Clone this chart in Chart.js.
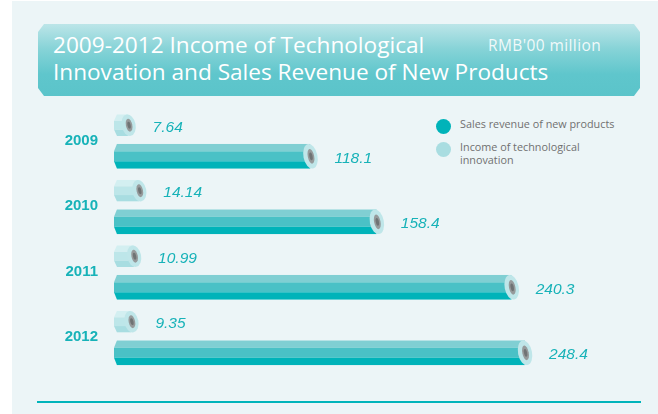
<!DOCTYPE html>
<html>
<head>
<meta charset="utf-8">
<script src="https://cdn.jsdelivr.net/npm/chart.js@4.4.0/dist/chart.umd.min.js"></script>
<style>
    body { margin: 0; background: #ffffff; }
    #wrap { position: relative; width: 658px; height: 414px; overflow: hidden; }
    #panel { position: absolute; left: 12px; top: 1px; right: 0; bottom: 0; background: #ecf5f7; }
    #titlebox {
        position: absolute; left: 38px; top: 24px; width: 602px; height: 72px;
        background: linear-gradient(to bottom, #bce5e8 0%, #86d3d7 35%, #5fc6cc 70%, #5bc4ca 100%);
        clip-path: polygon(6px 0, 596px 0, 602px 8px, 602px 64px, 596px 72px, 6px 72px, 0 64px, 0 8px);
    }
    #title {
        position: absolute; left: 53px; top: 31px; color: #ffffff;
        font-family: "Open Sans", sans-serif; font-size: 22.6px; line-height: 27px; white-space: nowrap;
    }
    #unit {
        position: absolute; left: 488px; top: 34px; color: rgba(255,255,255,0.88);
        font-family: "Open Sans", sans-serif; font-size: 15.5px; letter-spacing: 0.4px; white-space: nowrap;
    }
    #legend { position: absolute; left: 436px; top: 117px; font-family: "Open Sans", sans-serif; font-size: 10.8px; color: #707070; }
    .item { position: relative; padding-left: 24px; line-height: 13px; margin-bottom: 10px; }
    .dot { position: absolute; left: 0; top: 2px; width: 15px; height: 15px; border-radius: 50%; }
    #bottomline { position: absolute; left: 37px; top: 401px; width: 604px; height: 2px; background: #00b4ba; }
    #c { position: absolute; left: 0; top: 0; }
</style>
</head>
<body>
<div id="wrap">
    <div id="panel"></div>
    <div id="titlebox"></div>
    <div id="title">2009-2012 Income of Technological<br>Innovation and Sales Revenue of New Products</div>
    <div id="unit">RMB'00 million</div>
    <div id="legend">
        <div class="item"><span class="dot" style="background:#00b3b9"></span>Sales revenue of new products</div>
        <div class="item"><span class="dot" style="background:#a9dde1"></span>Income of technological<br>innovation</div>
    </div>
    <div id="bottomline"></div>
    <canvas id="c" width="658" height="414"></canvas>
</div>
<script>
var years = ['2009', '2010', '2011', '2012'];
var incomeTech = [7.64, 14.14, 10.99, 9.35];
var salesNew = [118.1, 158.4, 240.3, 248.4];

// colours for the prism bars: top, middle, bottom
var salesShades = ['#80cfd3', '#4ac1c6', '#00b3b9'];
var incomeShades = ['#d3eff1', '#bde6e9', '#a8dde1'];

// draws the bars as small prisms with an end cap, plus the value labels
var prismBars = {
    id: 'prismBars',
    afterDatasetsDraw: function (chart) {
        var ctx = chart.ctx;
        chart.data.datasets.forEach(function (ds, di) {
            var meta = chart.getDatasetMeta(di);
            var shades = di === 0 ? incomeShades : salesShades;
            meta.data.forEach(function (bar, i) {
                var p = bar.getProps(['x', 'y', 'base', 'height'], true);
                var h = p.height, t = p.y - h / 2, b = p.y + h / 2;
                var x0 = p.base - 2, x1 = p.x;

                ctx.save();
                ctx.beginPath();
                ctx.moveTo(x0 + 3, t);
                ctx.lineTo(x1, t);
                ctx.lineTo(x1, b);
                ctx.lineTo(x0 + 3, b);
                ctx.lineTo(x0, b - h * 0.3);
                ctx.lineTo(x0, t + h * 0.3);
                ctx.closePath();
                ctx.clip();
                ctx.fillStyle = shades[0];
                ctx.fillRect(x0, t, x1 - x0, h * 0.3);
                ctx.fillStyle = shades[1];
                ctx.fillRect(x0, t + h * 0.3, x1 - x0, h * 0.4);
                ctx.fillStyle = shades[2];
                ctx.fillRect(x0, t + h * 0.7, x1 - x0, h * 0.3);
                ctx.restore();

                // end cap
                ctx.save();
                ctx.beginPath();
                ctx.ellipse(x1, p.y, 7, h / 2, -0.2, 0, Math.PI * 2);
                ctx.fillStyle = '#bfe6e9';
                ctx.fill();
                ctx.beginPath();
                ctx.ellipse(x1 + 0.5, p.y, 3.2, h * 0.3, -0.2, 0, Math.PI * 2);
                ctx.fillStyle = '#969a9b';
                ctx.fill();
                ctx.beginPath();
                ctx.ellipse(x1 + 0.5, p.y, 1.6, h * 0.16, -0.2, 0, Math.PI * 2);
                ctx.fillStyle = '#6f7374';
                ctx.fill();
                ctx.restore();

                // value label
                ctx.save();
                ctx.font = 'italic 15.5px "Liberation Sans", Arial, sans-serif';
                ctx.fillStyle = '#17b2b8';
                ctx.textAlign = 'left';
                ctx.textBaseline = 'middle';
                ctx.fillText(ds.data[i].toString(), x1 + 24, p.y + 2);
                ctx.restore();
            });
        });
    }
};

var chart = new Chart(document.getElementById('c'), {
    type: 'bar',
    data: {
        labels: years,
        datasets: [{
            label: 'Income of technological innovation',
            data: incomeTech,
            backgroundColor: 'rgba(0,0,0,0)',
            barPercentage: 0.7
        }, {
            label: 'Sales revenue of new products',
            data: salesNew,
            backgroundColor: 'rgba(0,0,0,0)',
            barPercentage: 0.8
        }]
    },
    options: {
        indexAxis: 'y',
        responsive: false,
        animation: false,
        devicePixelRatio: 1,
        layout: { padding: { top: 108, bottom: 44, left: 0, right: 48 } },
        plugins: { legend: { display: false }, tooltip: { enabled: false } },
        datasets: { bar: { categoryPercentage: 0.95 } },
        scales: {
            x: { display: false, min: 0, max: 300 },
            y: {
                afterFit: function (s) { s.width = 116; },
                grid: { display: false, drawTicks: false },
                border: { display: false },
                ticks: {
                    padding: 18,
                    color: '#17b2b8',
                    font: { family: '"Liberation Sans", Arial, sans-serif', size: 15, weight: 'bold' }
                }
            }
        }
    },
    plugins: [prismBars]
});
</script>
</body>
</html>
